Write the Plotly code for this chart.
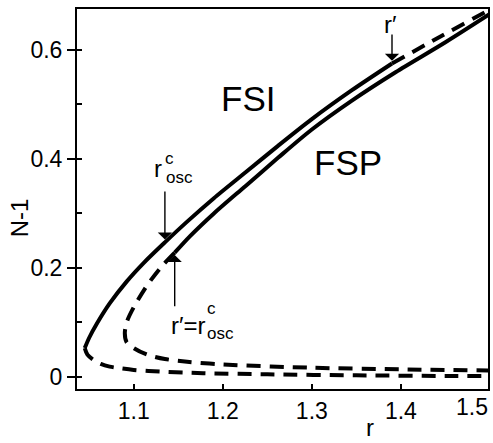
import numpy as np
import plotly.graph_objects as go

# Outer branch (FSI boundary): upper part solid up to r', then dashed
A_UP_R = [1.045, 1.050, 1.059, 1.073, 1.092, 1.111, 1.135, 1.160, 1.190, 1.226, 1.262, 1.300, 1.345, 1.390]
A_UP_N = [0.053, 0.072, 0.099, 0.135, 0.175, 0.209, 0.247, 0.285, 0.328, 0.376, 0.424, 0.473, 0.526, 0.575]
A_TAIL_R = [1.390, 1.445, 1.500]
A_TAIL_N = [0.575, 0.625, 0.674]
# Outer branch, lower unstable part (dashed)
A_LOW_R = [1.045, 1.048, 1.055, 1.063, 1.073, 1.085, 1.100, 1.129, 1.178, 1.250, 1.350, 1.450, 1.500]
A_LOW_N = [0.053, 0.041, 0.031, 0.024, 0.019, 0.016, 0.013, 0.010, 0.007, 0.005, 0.003, 0.002, 0.002]

# Inner branch (FSP boundary): dashed below r' = r_osc^c, solid above it
B_DASH_R = [1.146, 1.131, 1.115, 1.100, 1.092, 1.090, 1.092, 1.100, 1.115, 1.135, 1.160, 1.200, 1.300, 1.400, 1.500]
B_DASH_N = [0.228, 0.202, 0.168, 0.128, 0.100, 0.080, 0.064, 0.053, 0.041, 0.033, 0.028, 0.023, 0.017, 0.014, 0.012]
B_SOLID_R = [1.146, 1.163, 1.190, 1.226, 1.262, 1.300, 1.345, 1.394, 1.450, 1.500]
B_SOLID_N = [0.228, 0.258, 0.300, 0.351, 0.402, 0.454, 0.507, 0.559, 0.614, 0.666]

# Marked parameter values
R_OSC_C = 1.135
R_PRIME_LOW = 1.146
R_PRIME_HIGH = 1.390

X_TICKS = [1.1, 1.2, 1.3, 1.4, 1.5]
X_TICK_TEXT = ["1.1", "1.2", "1.3", "1.4", "1.5"]
Y_TICKS = [0.0, 0.2, 0.4, 0.6]
Y_TICK_TEXT = ["0", "0.2", "0.4", "0.6"]
Y_MINOR = [0.1, 0.3, 0.5]

X_RANGE = [1.0363, 1.4978]
Y_RANGE = [-0.022, 0.675]

FONT = "Liberation Sans"
INK = "black"
LW = 4
DASH = "14px,9px"

fig = go.Figure()


def add_line(xs, ys, dash=None):
    fig.add_trace(go.Scatter(
        x=xs, y=ys, mode="lines", showlegend=False, hoverinfo="skip",
        line=dict(color=INK, width=LW, shape="spline", smoothing=0.8,
                  dash=dash if dash else "solid"),
    ))


add_line(A_UP_R, A_UP_N)
add_line(A_TAIL_R, A_TAIL_N, DASH)
add_line(A_LOW_R, A_LOW_N, DASH)
add_line(B_DASH_R, B_DASH_N, DASH)
add_line(B_SOLID_R, B_SOLID_N)

# invisible trace so the overlay axis (inner halves of the y ticks) is drawn
fig.add_trace(go.Scatter(x=[None], y=[None], yaxis="y2", showlegend=False, hoverinfo="skip"))

# arrow tips sit on the thick curves
tip_osc = float(np.interp(R_OSC_C, A_UP_R, A_UP_N)) + 0.005
tip_low = float(np.interp(R_PRIME_LOW, B_SOLID_R, B_SOLID_N)) - 0.004
tip_high = float(np.interp(R_PRIME_HIGH, A_UP_R, A_UP_N)) + 0.005

arrows = [
    (R_OSC_C, tip_osc, 0.343),
    (R_PRIME_LOW, tip_low, 0.127),
    (R_PRIME_HIGH, tip_high, 0.631),
]
ann = []
for ax_x, tip_y, tail_y in arrows:
    ann.append(dict(
        x=ax_x, y=tip_y, ax=ax_x, ay=tail_y, xref="x", yref="y", axref="x", ayref="y",
        text="", showarrow=True, arrowhead=1, arrowsize=1.7, arrowwidth=1.4,
        arrowcolor=INK, standoff=0, startstandoff=0,
    ))


def label(x, y, text, size, dx=0, dy=0, xanchor="center", yanchor="middle"):
    ann.append(dict(
        x=x, y=y, xref="x", yref="y", text=text, showarrow=False,
        xanchor=xanchor, yanchor=yanchor, xshift=dx, yshift=dy,
        font=dict(family=FONT, size=size, color=INK),
    ))


# region names
label(1.2285, 0.510, "FSI", 35)
label(1.341, 0.394, "FSP", 35)

# r_osc^c above the first arrow
label(R_OSC_C, 0.343, "r", 24, dx=-7, dy=22)
label(R_OSC_C, 0.343, "c", 17, dx=5, dy=32)
label(R_OSC_C, 0.343, "osc", 17, dx=15, dy=13)

# r' = r_osc^c below the second arrow
label(R_PRIME_LOW, 0.127, "r\u2032=r", 24, dx=-6, dy=-18, xanchor="left")
label(R_PRIME_LOW, 0.127, "c", 17, dx=37, dy=-1)
label(R_PRIME_LOW, 0.127, "osc", 17, dx=46, dy=-26)

# r' above the third arrow
label(R_PRIME_HIGH, 0.631, "r\u2032", 24, dx=-2, dy=8)

# last x tick label sits on the right border
ann.append(dict(
    x=1.0048, y=-0.047, xref="paper", yref="paper", text=X_TICK_TEXT[-1],
    showarrow=False, xanchor="right", yanchor="middle",
    font=dict(family=FONT, size=23, color=INK),
))

# axis titles
ann.append(dict(x=0.714, y=-0.10, xref="paper", yref="paper", text="r", showarrow=False,
                xanchor="center", yanchor="middle", font=dict(family=FONT, size=24, color=INK)))
ann.append(dict(x=-0.1404, y=0.45, xref="paper", yref="paper", text="N-1", showarrow=False,
                textangle=-90, xanchor="center", yanchor="middle",
                font=dict(family=FONT, size=24, color=INK)))

fig.update_layout(
    width=493, height=443,
    margin=dict(l=77, r=3, t=9, b=54),
    paper_bgcolor="white", plot_bgcolor="white",
    font=dict(family=FONT, size=23, color=INK),
    showlegend=False,
    annotations=ann,
    xaxis=dict(
        range=X_RANGE, tickvals=X_TICKS[:-1], ticktext=X_TICK_TEXT[:-1],
        ticks="inside", ticklen=5, tickwidth=2, tickcolor=INK,
        showline=True, linewidth=2, linecolor=INK, mirror=True,
        showgrid=False, zeroline=False, ticklabelstandoff=0,
    ),
    yaxis=dict(
        range=Y_RANGE, tickvals=Y_TICKS, ticktext=Y_TICK_TEXT,
        ticks="outside", ticklen=8, tickwidth=2, tickcolor=INK,
        minor=dict(tickvals=Y_MINOR, ticks="inside", ticklen=5, tickwidth=2, tickcolor=INK),
        showline=True, linewidth=2, linecolor=INK, mirror=True,
        showgrid=False, zeroline=False,
    ),
    yaxis2=dict(
        range=Y_RANGE, overlaying="y", anchor="x", side="left",
        tickvals=Y_TICKS, ticks="inside", ticklen=5, tickwidth=2, tickcolor=INK,
        showticklabels=False, showline=False, showgrid=False, zeroline=False,
    ),
)

fig.write_html("out.html")
